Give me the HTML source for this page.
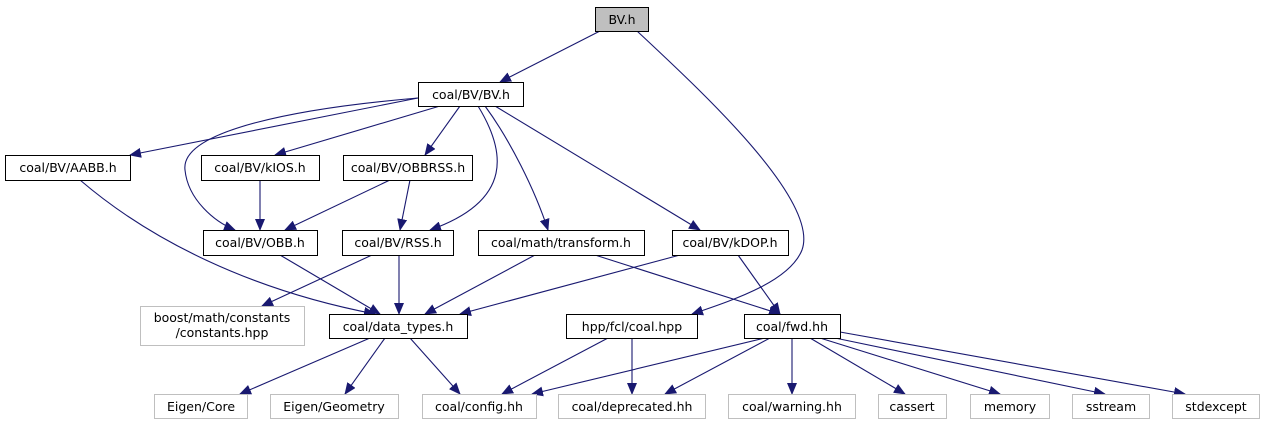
<!DOCTYPE html>
<html><head><meta charset="utf-8"><style>
html,body{margin:0;padding:0;background:#fff;width:1265px;height:425px;overflow:hidden}
text{font-family:"DejaVu Sans","Liberation Sans",sans-serif;font-size:12.5px;fill:#000}
</style></head><body>
<svg width="1265" height="425" xmlns="http://www.w3.org/2000/svg">
<defs><marker id="a" markerWidth="12" markerHeight="10" refX="11" refY="5" orient="auto" markerUnits="userSpaceOnUse"><path d="M0,0 L12,5 L0,10 z" fill="#191970"/></marker></defs>
<g fill="none" stroke="#191970" stroke-width="1.1" marker-end="url(#a)">
<path d="M600,31 L500,82"/>
<path d="M637,31 C700,90 820,200 802,250 C790,280 740,298 692,314"/>
<path d="M418,98 L130,155"/>
<path d="M418,98 C300,108 180,130 185,170 C188,200 215,222 235,230"/>
<path d="M440,106 L275,155"/>
<path d="M460,106 L425,155"/>
<path d="M478,106 C505,150 515,200 430,230"/>
<path d="M485,106 C510,140 535,190 548,230"/>
<path d="M495,106 L700,230"/>
<path d="M80,180 C150,240 250,290 375,314"/>
<path d="M260,180 L260,230"/>
<path d="M390,180 L285,230"/>
<path d="M410,180 L400,230"/>
<path d="M280,255 L380,314"/>
<path d="M372,255 L262,306"/>
<path d="M399,255 L399,314"/>
<path d="M535,255 L425,314"/>
<path d="M595,255 L780,314"/>
<path d="M680,255 L460,314"/>
<path d="M738,255 L780,314"/>
<path d="M370,338 L240,394"/>
<path d="M385,338 L345,394"/>
<path d="M410,338 L460,394"/>
<path d="M608,338 L502,394"/>
<path d="M632,338 L632,394"/>
<path d="M765,338 L532,394"/>
<path d="M770,338 L665,394"/>
<path d="M792,338 L792,394"/>
<path d="M810,338 L905,394"/>
<path d="M820,338 L1000,394"/>
<path d="M835,338 L1105,394"/>
<path d="M840,332 L1185,394"/>
</g>
<g stroke="#000" stroke-width="1" fill="#fff">
<rect x="595.5" y="7.5" width="53" height="24" fill="#bfbfbf"/>
<rect x="418.5" y="82.5" width="105" height="24"/>
<rect x="5.5" y="155.5" width="125" height="25"/>
<rect x="201.5" y="155.5" width="118" height="25"/>
<rect x="343.5" y="155.5" width="129" height="25"/>
<rect x="203.5" y="230.5" width="114" height="25"/>
<rect x="342.5" y="230.5" width="111" height="25"/>
<rect x="478.5" y="230.5" width="166" height="25"/>
<rect x="672.5" y="230.5" width="116" height="25"/>
<rect x="329.5" y="314.5" width="138" height="24"/>
<rect x="566.5" y="314.5" width="131" height="24"/>
<rect x="744.5" y="314.5" width="96" height="24"/>
</g>
<g stroke="#bfbfbf" stroke-width="1" fill="#fff">
<rect x="140.5" y="306.5" width="164" height="39"/>
<rect x="154.5" y="394.5" width="93" height="24"/>
<rect x="270.5" y="394.5" width="128" height="24"/>
<rect x="422.5" y="394.5" width="114" height="24"/>
<rect x="558.5" y="394.5" width="147" height="24"/>
<rect x="728.5" y="394.5" width="127" height="24"/>
<rect x="878.5" y="394.5" width="68" height="24"/>
<rect x="970.5" y="394.5" width="79" height="24"/>
<rect x="1072.5" y="394.5" width="77" height="24"/>
<rect x="1172.5" y="394.5" width="87" height="24"/>
</g>
<g text-anchor="middle">
<text x="622" y="24">BV.h</text>
<text x="471" y="99">coal/BV/BV.h</text>
<text x="68" y="172">coal/BV/AABB.h</text>
<text x="260" y="172">coal/BV/kIOS.h</text>
<text x="408" y="172">coal/BV/OBBRSS.h</text>
<text x="260" y="247">coal/BV/OBB.h</text>
<text x="398" y="247">coal/BV/RSS.h</text>
<text x="561" y="247">coal/math/transform.h</text>
<text x="730" y="247">coal/BV/kDOP.h</text>
<text x="222" y="322">boost/math/constants</text>
<text x="222" y="337">/constants.hpp</text>
<text x="398" y="331">coal/data_types.h</text>
<text x="632" y="331">hpp/fcl/coal.hpp</text>
<text x="792" y="331">coal/fwd.hh</text>
<text x="201" y="411">Eigen/Core</text>
<text x="334" y="411">Eigen/Geometry</text>
<text x="479" y="411">coal/config.hh</text>
<text x="632" y="411">coal/deprecated.hh</text>
<text x="792" y="411">coal/warning.hh</text>
<text x="912" y="411">cassert</text>
<text x="1010" y="411">memory</text>
<text x="1111" y="411">sstream</text>
<text x="1216" y="411">stdexcept</text>
</g>
</svg>
</body></html>
